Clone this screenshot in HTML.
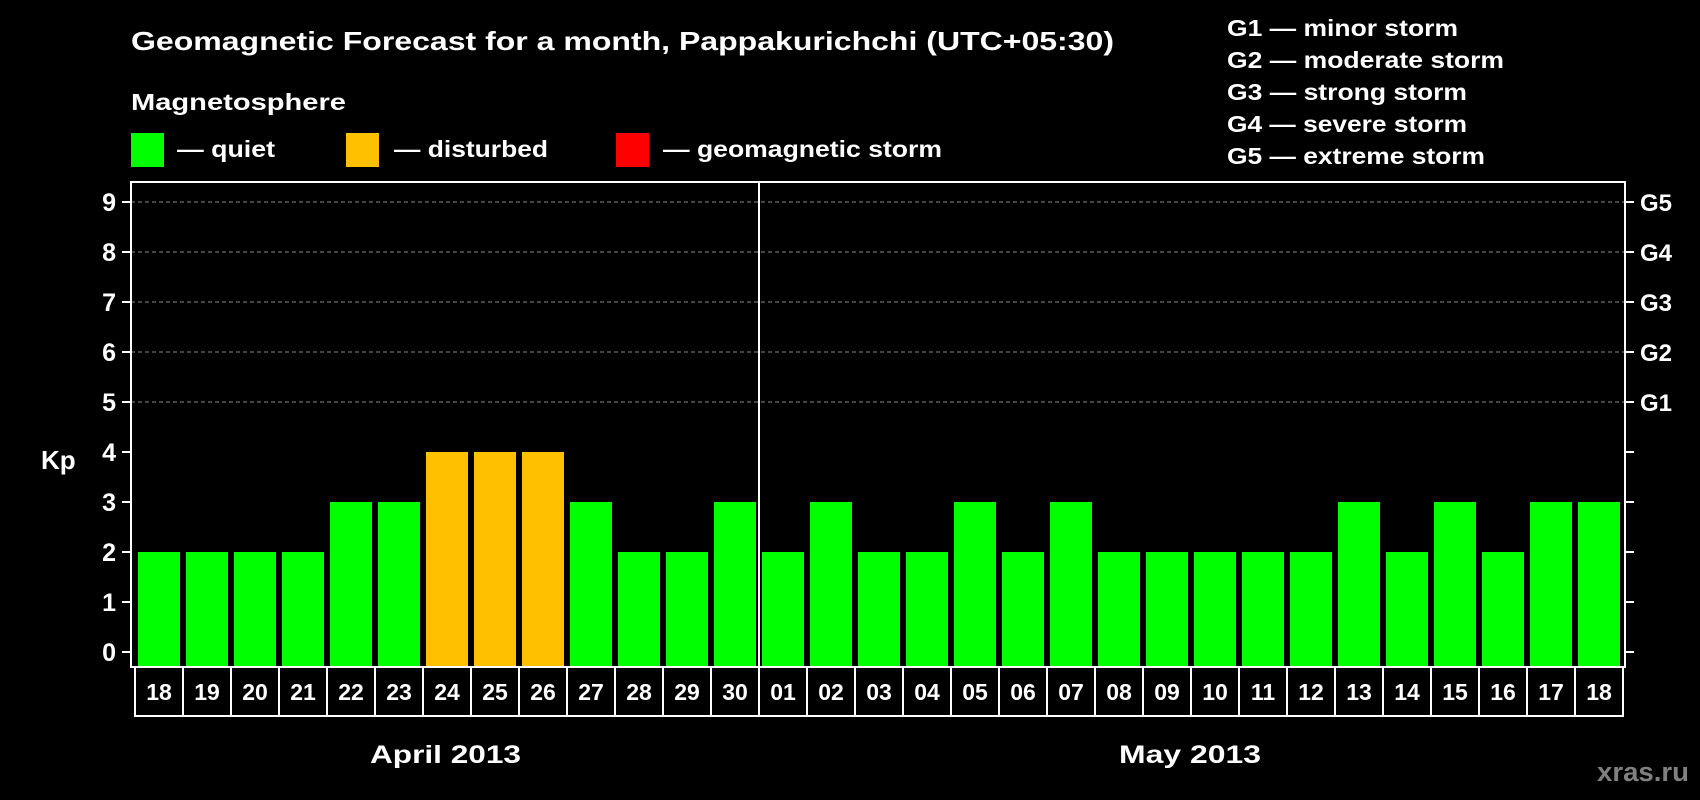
<!DOCTYPE html>
<html><head><meta charset="utf-8"><style>
html,body{margin:0;padding:0;background:#000;width:1700px;height:800px;overflow:hidden}
svg text{font-family:"Liberation Sans",Arial,sans-serif;font-weight:bold;fill:#fff}
</style></head><body>
<svg id="chart" width="1700" height="800" xmlns="http://www.w3.org/2000/svg">
<rect width="1700" height="800" fill="#000"/>
<text x="131" y="50" font-size="26" textLength="983" lengthAdjust="spacingAndGlyphs">Geomagnetic Forecast for a month, Pappakurichchi (UTC+05:30)</text>
<text x="1227" y="36" font-size="23" textLength="231" lengthAdjust="spacingAndGlyphs">G1 — minor storm</text>
<text x="1227" y="68" font-size="23" textLength="277" lengthAdjust="spacingAndGlyphs">G2 — moderate storm</text>
<text x="1227" y="100" font-size="23" textLength="240" lengthAdjust="spacingAndGlyphs">G3 — strong storm</text>
<text x="1227" y="132" font-size="23" textLength="240" lengthAdjust="spacingAndGlyphs">G4 — severe storm</text>
<text x="1227" y="164" font-size="23" textLength="258" lengthAdjust="spacingAndGlyphs">G5 — extreme storm</text>
<text x="131" y="110" font-size="23" textLength="215" lengthAdjust="spacingAndGlyphs">Magnetosphere</text>
<rect x="131" y="133" width="33" height="34" fill="#00ff00"/>
<text x="177" y="157" font-size="23" textLength="98" lengthAdjust="spacingAndGlyphs">— quiet</text>
<rect x="346" y="133" width="33" height="34" fill="#ffc000"/>
<text x="394" y="157" font-size="23" textLength="154" lengthAdjust="spacingAndGlyphs">— disturbed</text>
<rect x="616" y="133" width="33" height="34" fill="#ff0000"/>
<text x="663" y="157" font-size="23" textLength="279" lengthAdjust="spacingAndGlyphs">— geomagnetic storm</text>
<text x="41" y="469" font-size="26">Kp</text>
<text x="370" y="763" font-size="25" textLength="151" lengthAdjust="spacingAndGlyphs">April 2013</text>
<text x="1119" y="763" font-size="25" textLength="142" lengthAdjust="spacingAndGlyphs">May 2013</text>
<text x="1597" y="781" font-size="27" style="fill:#808080" textLength="92" lengthAdjust="spacingAndGlyphs">xras.ru</text>
<g id="plot"></g>
</svg>
<script>
const days = ["18","19","20","21","22","23","24","25","26","27","28","29","30","01","02","03","04","05","06","07","08","09","10","11","12","13","14","15","16","17","18"];
const kpValues = [2,2,2,2,3,3,4,4,4,3,2,2,3,2,3,2,2,3,2,3,2,2,2,2,2,3,2,3,2,3,3];
const yTicks = [0,1,2,3,4,5,6,7,8,9];
const gLabels = ["G1","G2","G3","G4","G5"];
const gLevels = [5,6,7,8,9];
const aprilCount = 13;

const NS = "http://www.w3.org/2000/svg";
const g = document.getElementById("plot");
const L = 131, R = 1625, T = 182, B = 667, Y0 = 652, Y9 = 202;
const cellL = 135, cellW = (1623 - 135) / days.length;
const y = v => Y0 + (Y9 - Y0) * v / 9;
const x = i => cellL + i * cellW;
function mk(tag, attrs) { const e = document.createElementNS(NS, tag); for (const k in attrs) e.setAttribute(k, attrs[k]); g.appendChild(e); return e; }

gLevels.forEach((lv, i) => {
  const ln = mk("line", {x1: L, x2: R, y1: y(lv), y2: y(lv), stroke: "#888", "stroke-width": 1, "stroke-dasharray": "4,3"});
  
  
  const t = mk("text", {x: 1640, y: y(lv) + 9, "font-size": 24});
  t.textContent = gLabels[i];
  
  
});
yTicks.forEach(v => {
  const tk = mk("line", {x1: L - 9, x2: L, y1: y(v), y2: y(v), stroke: "#fff", "stroke-width": 2});
  
  
  const tr = mk("line", {x1: R, x2: R + 9, y1: y(v), y2: y(v), stroke: "#fff", "stroke-width": 2});
  
  
  const t = mk("text", {x: 116, y: y(v) + 9, "font-size": 25, "text-anchor": "end"});
  t.textContent = v;
  
  
});
kpValues.forEach((v, i) => {
  const col = v >= 5 ? "#ff0000" : (v >= 4 ? "#ffc000" : "#00ff00");
  const b = mk("rect", {x: x(i) + 3, y: y(v), width: cellW - 6, height: B - y(v) - 1, fill: col});
  
  
  const c = mk("rect", {x: x(i), y: B, width: cellW, height: 49, fill: "none", stroke: "#fff", "stroke-width": 2});
  
  
  const t = mk("text", {x: x(i) + cellW / 2, y: 700, "font-size": 23, "text-anchor": "middle"});
  t.textContent = days[i];
  
  
});
const sep = mk("line", {x1: x(aprilCount), x2: x(aprilCount), y1: T, y2: B, stroke: "#fff", "stroke-width": 2});


const fr = mk("rect", {x: L, y: T, width: R - L, height: B - T, fill: "none", stroke: "#fff", "stroke-width": 2});


</script>
</body></html>
